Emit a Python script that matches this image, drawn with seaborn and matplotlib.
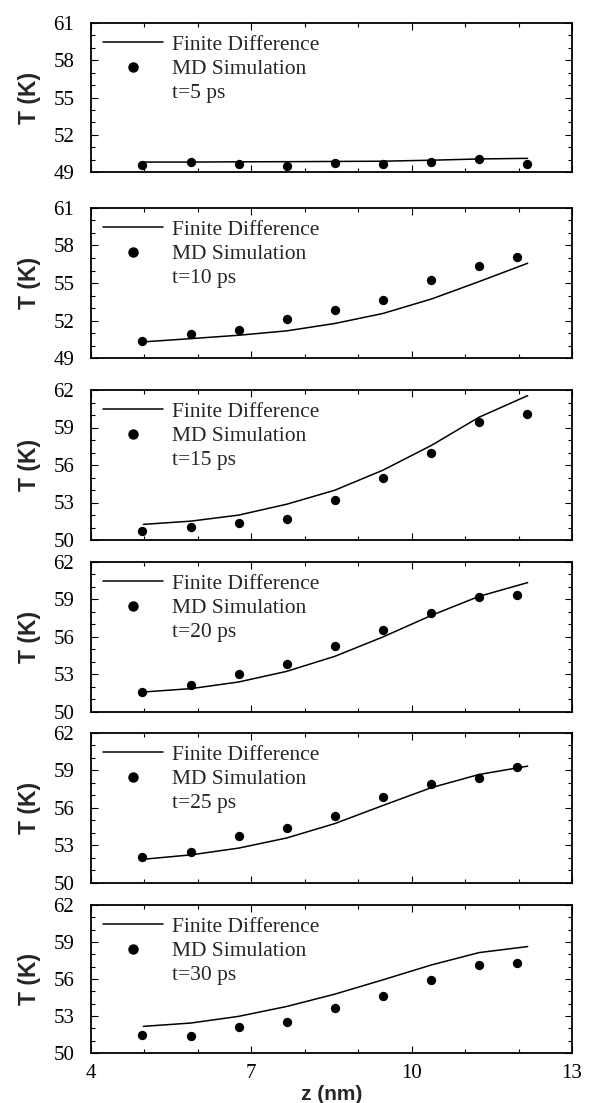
import numpy as np
import pandas as pd
import matplotlib
matplotlib.use("Agg")
import matplotlib.pyplot as plt
from matplotlib.lines import Line2D
from matplotlib.ticker import MultipleLocator
import seaborn as sns

# ---------------- data ----------------
times = ["t=5 ps", "t=10 ps", "t=15 ps", "t=20 ps", "t=25 ps", "t=30 ps"]

z_fd = [4.98, 5.87, 6.76, 7.66, 8.56, 9.46, 10.37, 11.26, 12.17]
z_md_a = [4.96, 5.87, 6.76, 7.66, 8.56, 9.46, 10.37, 11.26, 12.15]
z_md_b = [4.96, 5.87, 6.76, 7.66, 8.56, 9.46, 10.37, 11.26, 11.97]

fd_5 = [49.80, 49.80, 49.82, 49.83, 49.85, 49.87, 49.95, 50.05, 50.10]
md_5 = [49.54, 49.81, 49.62, 49.49, 49.76, 49.68, 49.81, 50.03, 49.62]

fd_10 = [50.29, 50.55, 50.82, 51.17, 51.76, 52.56, 53.72, 55.11, 56.58]
md_10 = [50.37, 50.93, 51.23, 52.14, 52.81, 53.61, 55.20, 56.37, 57.07]

fd_15 = [51.25, 51.51, 51.99, 52.86, 53.98, 55.58, 57.57, 59.82, 61.55]
md_15 = [50.74, 51.06, 51.38, 51.70, 53.24, 54.99, 56.95, 59.47, 60.08]

fd_20 = [51.60, 51.87, 52.40, 53.25, 54.45, 56.00, 57.73, 59.25, 60.35]
md_20 = [51.60, 52.13, 53.07, 53.87, 55.25, 56.53, 57.92, 59.20, 59.39]

fd_25 = [51.90, 52.25, 52.79, 53.60, 54.75, 56.20, 57.63, 58.68, 59.35]
md_25 = [52.10, 52.50, 53.74, 54.38, 55.32, 56.88, 57.88, 58.41, 59.27]

fd_30 = [52.16, 52.43, 52.97, 53.77, 54.77, 55.93, 57.14, 58.14, 58.63]
md_30 = [51.46, 51.35, 52.13, 52.50, 53.67, 54.66, 55.90, 57.14, 57.33]

fd_series = [fd_5, fd_10, fd_15, fd_20, fd_25, fd_30]
md_series = [md_5, md_10, md_15, md_20, md_25, md_30]
md_z = [z_md_a, z_md_b, z_md_a, z_md_b, z_md_b, z_md_b]

ylims = [(49, 61), (49, 61), (50, 62), (50, 62), (50, 62), (50, 62)]
yticks_a = [49, 52, 55, 58, 61]
yticks_b = [50, 53, 56, 59, 62]
yticks = [yticks_a, yticks_a, yticks_b, yticks_b, yticks_b, yticks_b]
xticks = [4, 7, 10, 13]

# ---------------- style ----------------
sns.set_theme(style="ticks")
plt.rcParams["font.family"] = ["Liberation Serif", "DejaVu Serif"]
plt.rcParams["axes.linewidth"] = 1.3
plt.rcParams["xtick.direction"] = "in"
plt.rcParams["ytick.direction"] = "in"

W, H = 593, 1103
fig = plt.figure(figsize=(W / 100, H / 100), dpi=100)
fig.patch.set_facecolor("white")

panel_px = [(23, 172), (208, 358), (390, 540), (562, 712), (733, 883), (905, 1053)]
left_px, right_px = 91, 572

label_font = dict(family=["Liberation Sans", "DejaVu Sans"], weight="bold", size=16.5)
xlabel_font = dict(family=["Liberation Sans", "DejaVu Sans"], weight="bold", size=15)

for i, (top, bot) in enumerate(panel_px):
    ax = fig.add_axes([left_px / W, 1 - bot / H, (right_px - left_px) / W, (bot - top) / H])
    ax.set_facecolor("white")
    df_fd = pd.DataFrame({"z": z_fd, "T": fd_series[i]})
    df_md = pd.DataFrame({"z": md_z[i], "T": md_series[i]})
    sns.lineplot(data=df_fd, x="z", y="T", ax=ax, color="black", linewidth=1.1,
                 legend=False, estimator=None, sort=False)
    sns.scatterplot(data=df_md, x="z", y="T", ax=ax, color="black", s=45,
                    edgecolor="black", linewidth=0, legend=False, zorder=3)
    ax.set_xlim(4, 13)
    ax.set_ylim(*ylims[i])
    ax.set_xticks(xticks)
    ax.set_yticks(yticks[i])
    ax.xaxis.set_minor_locator(MultipleLocator(1))
    ax.yaxis.set_minor_locator(MultipleLocator(1))
    ax.tick_params(which="both", direction="in", top=True, right=True,
                   color="black", width=0.8)
    ax.tick_params(which="major", length=5)
    ax.tick_params(which="minor", length=3)
    ax.tick_params(axis="y", labelsize=15, pad=12, labelcolor="black")
    ax.tick_params(axis="x", labelsize=15, pad=8, labelcolor="black")
    for sp in ax.spines.values():
        sp.set_visible(True)
        sp.set_color("black")
        sp.set_linewidth(1.3)
    ax.set_ylabel("T (K)", fontdict=label_font, labelpad=9)
    if i < 5:
        ax.tick_params(axis="x", labelbottom=False)
        ax.set_xlabel("")
    else:
        ax.set_xlabel("z (nm)", fontdict=xlabel_font)
        ax.xaxis.label.set_va("center")
        ax.xaxis.set_label_coords(0.5, -(1094 - bot) / (bot - top))

    handles = [
        Line2D([], [], color="black", linewidth=1.1),
        Line2D([], [], color="black", marker="o", linestyle="none", markersize=6.5),
        Line2D([], [], color="none", linestyle="none"),
    ]
    labels = ["Finite Difference", "MD Simulation", times[i]]
    ax.legend(handles, labels, loc="upper left", frameon=False, fontsize=15.5,
              handlelength=2.8, handletextpad=0.42, labelspacing=0.19,
              borderaxespad=0.35, borderpad=0.2)

fig.savefig("out.png", dpi=100, facecolor="white")
